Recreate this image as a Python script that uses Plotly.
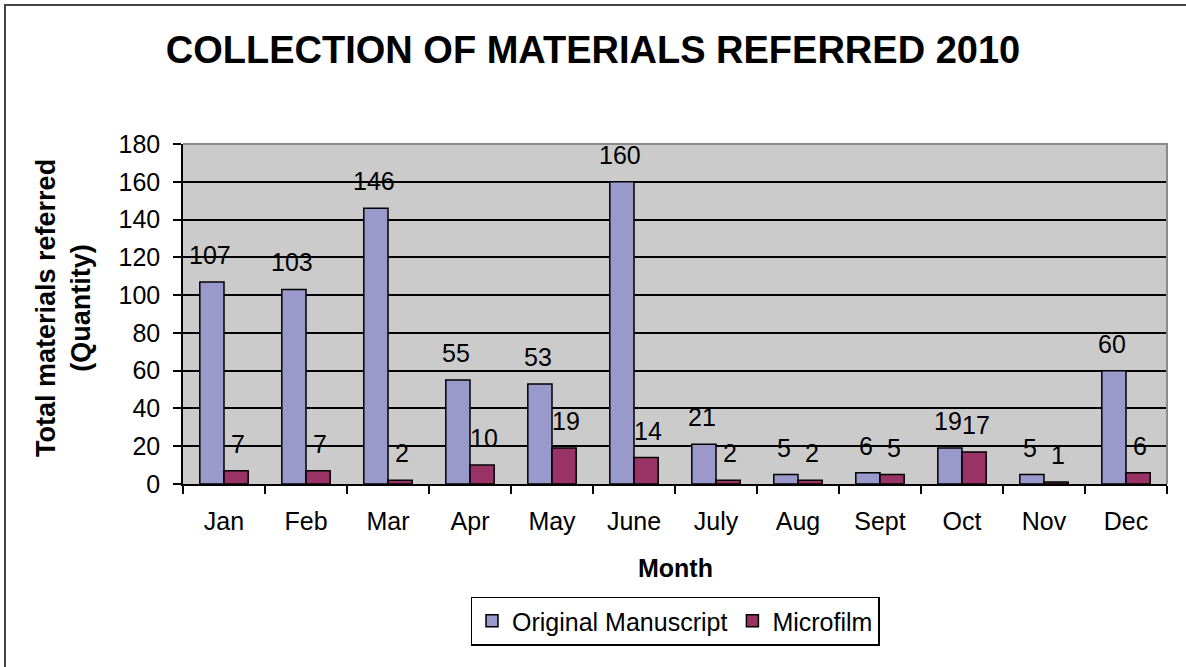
import plotly.graph_objects as go

months = ["Jan", "Feb", "Mar", "Apr", "May", "June", "July", "Aug", "Sept", "Oct", "Nov", "Dec"]
original = [107, 103, 146, 55, 53, 160, 21, 5, 6, 19, 5, 60]
microfilm = [7, 7, 2, 10, 19, 14, 2, 2, 5, 17, 1, 6]
y_ticks = [0, 20, 40, 60, 80, 100, 120, 140, 160, 180]

FONT = "Liberation Sans, Arial, sans-serif"
W, H = 1186, 667
L, R, T, B = 183, 19, 144, 183
pw = W - L - R
ph = H - T - B
BARGAP = 0.41
cat_w = pw / len(months)
bar_w = cat_w * (1 - BARGAP) / 2

fig = go.Figure()
fig.add_trace(go.Bar(
    x=months, y=original, name="Original Manuscript",
    marker=dict(color="#9999cc", line=dict(color="black", width=1.5)),
))
fig.add_trace(go.Bar(
    x=months, y=microfilm, name="Microfilm",
    marker=dict(color="#993366", line=dict(color="black", width=1.5)),
))

annotations = []
for series, shift in ((original, -bar_w / 2 - 2), (microfilm, bar_w / 2 + 2)):
    for m, v in zip(months, series):
        annotations.append(dict(
            x=m, y=v, xref="x", yref="y", text=str(v), showarrow=False,
            xshift=shift, yshift=27, xanchor="center", yanchor="middle",
            font=dict(size=25, color="black", family=FONT),
        ))

# axis titles
annotations.append(dict(
    text="<b>Month</b>", xref="paper", yref="paper", x=0.5, y=-(568 - (T + ph)) / ph,
    xanchor="center", yanchor="middle", showarrow=False,
    font=dict(size=25, color="black", family=FONT),
))
annotations.append(dict(
    text="<b>Total materials referred<br>(Quantity)</b>", xref="paper", yref="paper",
    x=(63 - L) / pw, y=0.5 + (T + ph / 2 - 308) / ph, textangle=-90,
    xanchor="center", yanchor="middle", showarrow=False,
    font=dict(size=27, color="black", family=FONT),
))

fig.update_layout(
    width=W, height=H,
    margin=dict(l=L, r=R, t=T, b=B, pad=0),
    paper_bgcolor="white",
    plot_bgcolor="#cbcbcb",
    barmode="group",
    bargap=BARGAP,
    bargroupgap=0,
    font=dict(family=FONT, color="black"),
    title=dict(text="<b>COLLECTION OF MATERIALS REFERRED 2010</b>",
               x=0.5, xanchor="center", y=1 - 50 / H, yanchor="middle",
               font=dict(size=38, color="black", family=FONT)),
    showlegend=True,
    legend=dict(orientation="h", x=0.5, xanchor="center",
                y=-(621 - (T + ph)) / ph, yanchor="middle",
                bordercolor="black", borderwidth=1.5, bgcolor="white",
                font=dict(size=25, color="black", family=FONT),
                traceorder="normal"),
    xaxis=dict(
        type="category", tickson="boundaries",
        ticks="outside", ticklen=8, tickcolor="black", tickwidth=1.5,
        tickfont=dict(size=25, color="black", family=FONT),
        ticklabelstandoff=14,
        showline=True, linecolor="black", linewidth=1.5,
        showgrid=False,
    ),
    yaxis=dict(
        range=[0, 180], tickvals=y_ticks,
        ticks="outside", ticklen=8, tickcolor="black", tickwidth=1.5,
        tickfont=dict(size=25, color="black", family=FONT),
        ticklabelstandoff=8,
        showline=True, linecolor="black", linewidth=1.5,
        showgrid=True, gridcolor="black", gridwidth=1.5,
        zeroline=False,
    ),
    annotations=annotations,
    shapes=[
        # plot area border (top/right), grey
        dict(type="path", xref="paper", yref="paper",
             path="M 0,1 L 1,1 L 1,0",
             line=dict(color="#8a8a8a", width=2), layer="above"),
        # outer frame (left and top edges visible)
        dict(type="rect", xref="paper", yref="paper",
             x0=(5 - L) / pw, x1=(1200 - L) / pw,
             y0=-(700 - (T + ph)) / ph, y1=1 + (T - 5) / ph,
             line=dict(color="#444444", width=2), fillcolor="rgba(0,0,0,0)"),
    ],
)

fig.write_html("out.html", config={"displayModeBar": False},
               post_script="document.body.style.margin='0';")
